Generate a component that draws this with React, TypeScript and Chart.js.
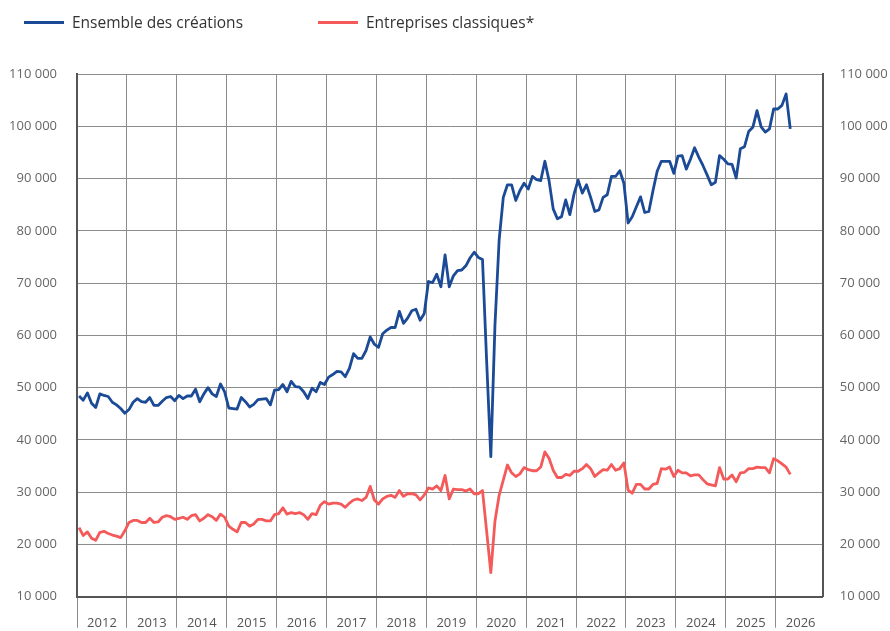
import React, { useEffect, useRef } from "react";
import { Chart, registerables } from "chart.js";

Chart.register(...registerables);

// Year labels (one band per year, Jan 2012 -> Dec 2026)
const yearLabels = ["2012","2013","2014","2015","2016","2017","2018","2019","2020","2021","2022","2023","2024","2025","2026"];

// Monthly values starting Jan 2012
const ensembleCreations = [
  48400, 47600, 49000, 47000, 46200, 48800, 48500, 48300, 47200, 46700, 46000, 45100,
  45800, 47200, 47900, 47300, 47200, 48100, 46600, 46600, 47400, 48100, 48300, 47500,
  48500, 47900, 48400, 48400, 49700, 47300, 48800, 50000, 48800, 48300, 50700, 49200,
  46100, 46000, 45900, 48100, 47300, 46300, 46800, 47700, 47800, 47900, 46700, 49500,
  49600, 50600, 49200, 51200, 50200, 50100, 49200, 47900, 49900, 49200, 51000, 50600,
  52000, 52500, 53100, 53000, 52100, 53700, 56500, 55600, 55600, 57100, 59700, 58300,
  57700, 60300, 61000, 61500, 61500, 64600, 62300, 63300, 64700, 65000, 62900, 64200,
  70300, 70100, 71700, 69300, 75400, 69300, 71400, 72400, 72500, 73300, 74800, 75900,
  74900, 74500, 55000, 36800, 62000, 78200, 86400, 88800, 88800, 85800, 87700, 89100,
  88000, 90400, 89800, 89600, 93300, 89600, 84200, 82300, 82700, 85900, 83100, 87000,
  89700, 87200, 88800, 86400, 83700, 84000, 86400, 86900, 90400, 90400, 91500, 89100,
  81500, 82700, 84600, 86500, 83500, 83700, 87700, 91400, 93300, 93300, 93300, 91000,
  94300, 94400, 91800, 93700, 95900, 94100, 92500, 90700, 88800, 89300, 94400, 93700,
  92800, 92700, 90100, 95700, 96100, 99000, 99800, 103000, 99900, 98900, 99500, 103300,
  103300, 104000, 106200, 99500
];

const entreprisesClassiques = [
  23200, 21700, 22400, 21200, 20800, 22300, 22500, 22100, 21800, 21600, 21300, 22600,
  24200, 24600, 24600, 24200, 24200, 25000, 24200, 24300, 25200, 25500, 25300, 24800,
  25000, 25200, 24800, 25500, 25700, 24500, 25000, 25700, 25300, 24600, 25800, 25200,
  23500, 22900, 22400, 24200, 24200, 23500, 23900, 24800, 24800, 24500, 24500, 25700,
  25900, 27000, 25800, 26100, 25900, 26100, 25700, 24800, 25900, 25700, 27500, 28200,
  27700, 27900, 27900, 27700, 27100, 27900, 28500, 28700, 28400, 29000, 31100, 28500,
  27700, 28700, 29200, 29400, 29000, 30300, 29200, 29700, 29700, 29500, 28500, 29500,
  30800, 30600, 31200, 30300, 33200, 28700, 30600, 30500, 30500, 30200, 30600, 29700,
  29700, 30300, 22500, 14600, 24500, 29400, 32300, 35200, 33700, 33000, 33500, 34700,
  34300, 34100, 34100, 34800, 37700, 36500, 34200, 32800, 32800, 33400, 33200, 34000,
  34000, 34500, 35300, 34500, 33000, 33700, 34300, 34200, 35300, 34200, 34500, 35600,
  30400, 29800, 31500, 31500, 30600, 30600, 31500, 31700, 34500, 34400, 34800, 33000,
  34200, 33700, 33700, 33100, 33300, 33300, 32400, 31600, 31400, 31200, 34700, 32500,
  32500, 33300, 32000, 33700, 33800, 34500, 34500, 34800, 34700, 34700, 33700, 36400,
  36000, 35400, 34800, 33400
];

const seriesNames = ["Ensemble des créations", "Entreprises classiques*"];
const seriesColors = ["#1b4a96", "#f45a5a"];

const yTicks = [10000, 20000, 30000, 40000, 50000, 60000, 70000, 80000, 90000, 100000, 110000];

const FONT = "'Open Sans', 'Noto Sans', sans-serif";
const X_MAX = 179.3;

function fmt(v: number): string {
  return String(v).replace(/\B(?=(\d{3})+(?!\d))/g, " ");
}

export default function App() {
  const canvasRef = useRef<HTMLCanvasElement | null>(null);

  useEffect(() => {
    document.body.style.margin = "0";
    const canvas = canvasRef.current;
    if (!canvas) return;

    const toPoints = (arr: number[]) => arr.map((v, i) => ({ x: i + 0.5, y: v }));

    const chart = new Chart(canvas, {
      type: "line",
      data: {
        datasets: [
          {
            label: seriesNames[0],
            data: toPoints(ensembleCreations),
            borderColor: seriesColors[0],
            backgroundColor: seriesColors[0],
            borderWidth: 2.8,
            pointRadius: 0,
            tension: 0,
            borderJoinStyle: "round",
            yAxisID: "y",
          },
          {
            label: seriesNames[1],
            data: toPoints(entreprisesClassiques),
            borderColor: seriesColors[1],
            backgroundColor: seriesColors[1],
            borderWidth: 2.8,
            pointRadius: 0,
            tension: 0,
            borderJoinStyle: "round",
            yAxisID: "y",
          },
        ],
      },
      options: {
        animation: false,
        responsive: true,
        maintainAspectRatio: false,
        layout: { padding: { top: 74, left: 0, right: 0, bottom: 0 } },
        plugins: {
          legend: { display: false },
          tooltip: { enabled: false },
        },
        scales: {
          x: {
            type: "linear",
            position: "bottom",
            min: 0,
            max: X_MAX,
            afterBuildTicks: (scale: any) => {
              const t: any[] = [];
              for (let i = 0; i < yearLabels.length; i++) {
                t.push({ value: i * 12 });
                t.push({ value: i * 12 + 6 });
              }
              scale.ticks = t;
            },
            afterFit: (scale: any) => {
              scale.height = 34.3;
            },
            grid: {
              color: (ctx: any) =>
                ctx.tick && ctx.tick.value % 12 === 0 ? "#8c8c8c" : "rgba(0,0,0,0)",
              tickColor: (ctx: any) =>
                ctx.tick && ctx.tick.value % 12 === 0 ? "#8c8c8c" : "rgba(0,0,0,0)",
              lineWidth: 1,
              drawTicks: true,
              tickLength: 31,
            },
            border: { display: true, color: "#555555", width: 2 },
            ticks: {
              autoSkip: false,
              maxRotation: 0,
              padding: -12,
              color: "#555555",
              font: { family: FONT, size: 13 },
              callback: (v: any) => {
                const n = Number(v);
                if (n % 12 === 6) return yearLabels[(n - 6) / 12];
                return "";
              },
            },
          },
          y: {
            type: "linear",
            position: "left",
            min: 10000,
            max: 110000,
            afterBuildTicks: (scale: any) => {
              scale.ticks = yTicks.map((v) => ({ value: v }));
            },
            afterFit: (scale: any) => {
              scale.width = 77;
            },
            grid: { color: "#8c8c8c", lineWidth: 1, drawTicks: false },
            border: { display: true, color: "#555555", width: 2 },
            ticks: {
              padding: 20,
              color: "#666666",
              font: { family: FONT, size: 13 },
              callback: (v: any) => fmt(Number(v)),
            },
          },
          y2: {
            type: "linear",
            position: "right",
            min: 10000,
            max: 110000,
            afterBuildTicks: (scale: any) => {
              scale.ticks = yTicks.map((v) => ({ value: v }));
            },
            afterFit: (scale: any) => {
              scale.width = 67.3;
            },
            grid: { drawOnChartArea: false, drawTicks: false },
            border: { display: true, color: "#555555", width: 2 },
            ticks: {
              padding: 17,
              color: "#666666",
              font: { family: FONT, size: 13 },
              callback: (v: any) => fmt(Number(v)),
            },
          },
        },
      },
    } as any);

    return () => {
      chart.destroy();
    };
  }, []);

  return (
    <div style={{ position: "relative", width: 890, height: 631, fontFamily: FONT }}>
      <canvas ref={canvasRef} style={{ position: "absolute", left: 0, top: 0, width: 890, height: 631 }} />
      {seriesNames.map((name, i) => (
        <div
          key={name}
          style={{
            position: "absolute",
            left: i === 0 ? 24 : 318,
            top: 12,
            height: 20,
            display: "flex",
            alignItems: "center",
            whiteSpace: "nowrap",
          }}
        >
          <span
            style={{
              display: "inline-block",
              width: 40,
              height: 3,
              background: seriesColors[i],
              marginRight: 8,
            }}
          />
          <span style={{ fontSize: 15.5, color: "#333333" }}>{name}</span>
        </div>
      ))}
    </div>
  );
}
